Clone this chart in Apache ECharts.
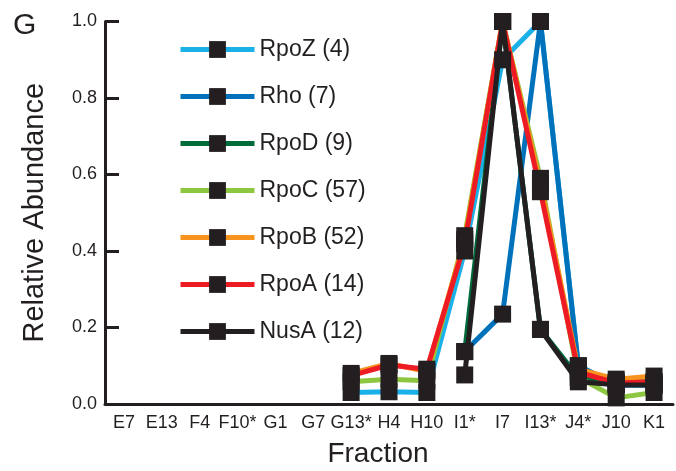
<!DOCTYPE html>
<html>
<head>
<meta charset="utf-8">
<script src="https://cdn.jsdelivr.net/npm/echarts@6/dist/echarts.min.js"></script>
<style>
html,body{margin:0;padding:0;background:#fff;}
#chart{width:676px;height:471px;}
</style>
</head>
<body>
<div id="chart"></div>
<script>
var categories = ['E7','E13','F4','F10*','G1','G7','G13*','H4','H10','I1*','I7','I13*','J4*','J10','K1'];
var seriesNames = ['RpoZ (4)','Rho (7)','RpoD (9)','RpoC (57)','RpoB (52)','RpoA (14)','NusA (12)'];
var seriesColors = ['#1AB0E8','#0072BC','#006B3A','#8DC63F','#F7941D','#ED1C24','#231F20'];
var rpoZ = [null,null,null,null,null,null,0.030,0.032,0.030,0.400,0.900,1.000,0.100,0.050,0.050];
var rho  = [null,null,null,null,null,null,null,null,null,0.137,0.235,1.000,0.100,0.050,0.050];
var rpoD = [null,null,null,null,null,null,null,null,null,0.137,1.000,0.195,0.070,0.058,0.058];
var rpoC = [null,null,null,null,null,null,0.058,0.065,0.061,0.440,1.000,0.590,0.070,0.016,0.030];
var rpoB = [null,null,null,null,null,null,0.080,0.106,0.085,0.430,1.000,0.575,0.091,0.065,0.073];
var rpoA = [null,null,null,null,null,null,0.074,0.102,0.091,0.420,1.000,0.555,0.083,0.055,0.058];
var nusA = [null,null,null,null,null,null,null,null,null,0.076,1.000,0.195,0.058,0.050,0.050];
var yTicks = [0, 0.2, 0.4, 0.6, 0.8, 1.0];

var allData = [rpoZ, rho, rpoD, rpoC, rpoB, rpoA, nusA];
var FONT = 'Liberation Sans';
var INK = '#231F20';

var series = [];
allData.forEach(function (d, i) {
  series.push({
    name: seriesNames[i],
    type: 'line',
    data: d,
    symbol: 'rect',
    symbolSize: 17,
    showSymbol: false,
    z: 2 + i * 0.01,
    lineStyle: { color: seriesColors[i], width: 5 },
    itemStyle: { color: INK },
    animation: false,
    silent: true
  });
});
allData.forEach(function (d, i) {
  series.push({
    name: 'm' + i,
    type: 'scatter',
    data: d,
    symbol: 'rect',
    symbolSize: 17,
    z: 10,
    itemStyle: { color: INK, opacity: 1 },
    animation: false,
    silent: true
  });
});

var chart = echarts.init(document.getElementById('chart'), null, { renderer: 'canvas' });
chart.setOption({
  animation: false,
  backgroundColor: '#fff',
  title: {
    text: 'G', left: 8, top: 6,
    textStyle: { fontFamily: FONT, fontSize: 30, fontWeight: 'normal', color: INK }
  },
  legend: {
    data: seriesNames,
    orient: 'vertical',
    left: 173, top: 33,
    itemWidth: 74, itemHeight: 21, itemGap: 24,
    lineStyle: { width: 5 },
    textStyle: { fontFamily: FONT, fontSize: 23, color: INK },
    selectedMode: false
  },
  grid: { left: 105, right: 3, top: 21.5, bottom: 67, containLabel: false, outerBoundsMode: 'none' },
  xAxis: {
    type: 'category',
    data: categories,
    boundaryGap: true,
    name: 'Fraction',
    nameLocation: 'middle',
    nameGap: 36,
    nameTextStyle: { fontFamily: FONT, fontSize: 28, color: INK, padding: [0, 22, 0, 0] },
    axisLine: { lineStyle: { color: INK, width: 3 } },
    axisTick: { inside: true, length: 9, lineStyle: { color: INK, width: 3 }, alignWithLabel: false },
    axisLabel: { interval: 0, margin: 10, fontFamily: FONT, fontSize: 18, color: INK },
    splitLine: { show: false }
  },
  yAxis: {
    type: 'value',
    min: yTicks[0], max: yTicks[yTicks.length - 1], interval: 0.2,
    name: 'Relative Abundance',
    nameLocation: 'middle',
    nameGap: 56,
    nameRotate: 90,
    nameTextStyle: { fontFamily: FONT, fontSize: 29, color: INK },
    axisLine: { show: true, lineStyle: { color: INK, width: 3 } },
    axisTick: { show: true, inside: true, length: 14, lineStyle: { color: INK, width: 3 } },
    axisLabel: { margin: 8, fontFamily: FONT, fontSize: 18, color: INK,
      formatter: function (v) { return v.toFixed(1); } },
    splitLine: { show: false }
  },
  series: series
});
</script>
</body>
</html>
